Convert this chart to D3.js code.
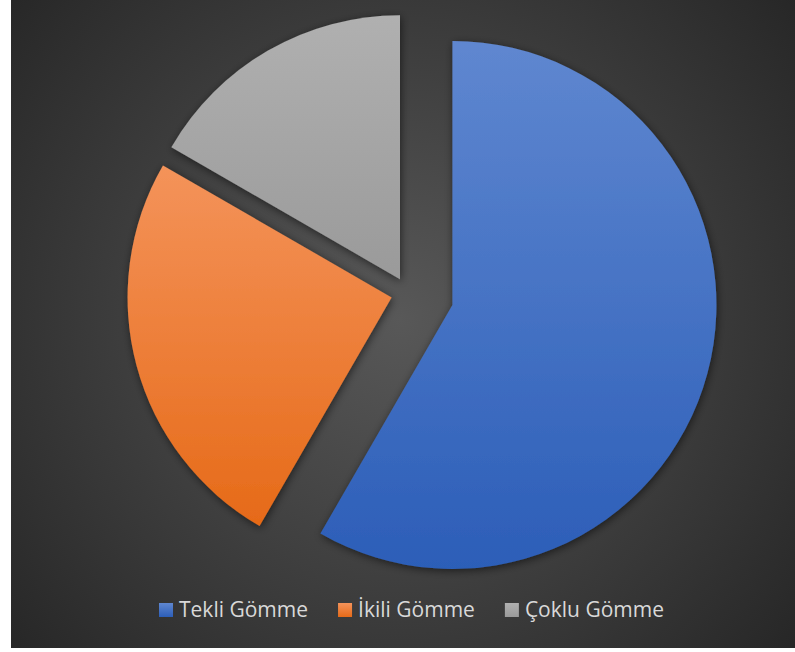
<!DOCTYPE html>
<html>
<head>
<meta charset="utf-8">
<script src="https://cdn.jsdelivr.net/npm/d3@7"></script>
<style>
html,body{margin:0;padding:0;background:#ffffff;}
svg{display:block;}
</style>
</head>
<body>
<svg id="chart" width="795" height="652"></svg>
<script>
const categories = ["Tekli Gömme", "İkili Gömme", "Çoklu Gömme"];
const values = [7, 3, 2];
const colorsTop = ["#5f87d0", "#f4935a", "#b0b0b0"];
const colorsBottom = ["#2c5eb8", "#e66a18", "#9a9a9a"];
const explode = [46, 17, 16];

const W = 795, H = 652;
const cx = 408, cy = 293, R = 264;

const svg = d3.select("#chart");
const defs = svg.append("defs");

const bg = defs.append("radialGradient").attr("id", "bg")
  .attr("gradientUnits", "userSpaceOnUse")
  .attr("cx", 400).attr("cy", 320).attr("r", 540);
bg.append("stop").attr("offset", "0").attr("stop-color", "#585858");
bg.append("stop").attr("offset", "1").attr("stop-color", "#242424");

const sh = defs.append("filter").attr("id", "shadow")
  .attr("x", "-20%").attr("y", "-20%").attr("width", "140%").attr("height", "140%");
sh.append("feDropShadow").attr("dx", 1).attr("dy", 2).attr("stdDeviation", 4)
  .attr("flood-color", "#000").attr("flood-opacity", 0.55);

categories.forEach((c, i) => {
  const g = defs.append("linearGradient").attr("id", "g" + i)
    .attr("x1", 0).attr("y1", 0).attr("x2", 0).attr("y2", 1);
  g.append("stop").attr("offset", "0").attr("stop-color", colorsTop[i]);
  g.append("stop").attr("offset", "1").attr("stop-color", colorsBottom[i]);
});

svg.append("rect").attr("x", 11).attr("y", 0).attr("width", W - 11).attr("height", 648)
  .attr("fill", "url(#bg)");

const pie = d3.pie().sort(null).value(d => d)(values);
const arc = d3.arc().innerRadius(0).outerRadius(R);

svg.append("g").attr("transform", `translate(${cx},${cy})`)
  .selectAll("path").data(pie).join("path")
  .attr("d", arc)
  .attr("transform", (d, i) => {
    const a = (d.startAngle + d.endAngle) / 2;
    return `translate(${explode[i] * Math.sin(a)},${-explode[i] * Math.cos(a)})`;
  })
  .attr("fill", (d, i) => `url(#g${i})`)
  .attr("filter", "url(#shadow)");

// legend
const legend = svg.append("g");
const items = legend.selectAll("g").data(categories).join("g");
items.append("rect").attr("width", 14).attr("height", 14).attr("y", -14)
  .attr("fill", (d, i) => `url(#g${i})`);
items.append("text").attr("x", 20).attr("y", 0)
  .attr("font-family", "'Open Sans', sans-serif").attr("font-size", 21)
  .attr("fill", "#d9d9d9").text(d => d);
let xpos = 0;
items.each(function () {
  const w = 20 + d3.select(this).select("text").node().getComputedTextLength();
  d3.select(this).attr("transform", `translate(${xpos},0)`);
  xpos += w + 30;
});
const total = xpos - 30;
legend.attr("transform", `translate(${411.5 - total / 2},617)`);
</script>
</body>
</html>
